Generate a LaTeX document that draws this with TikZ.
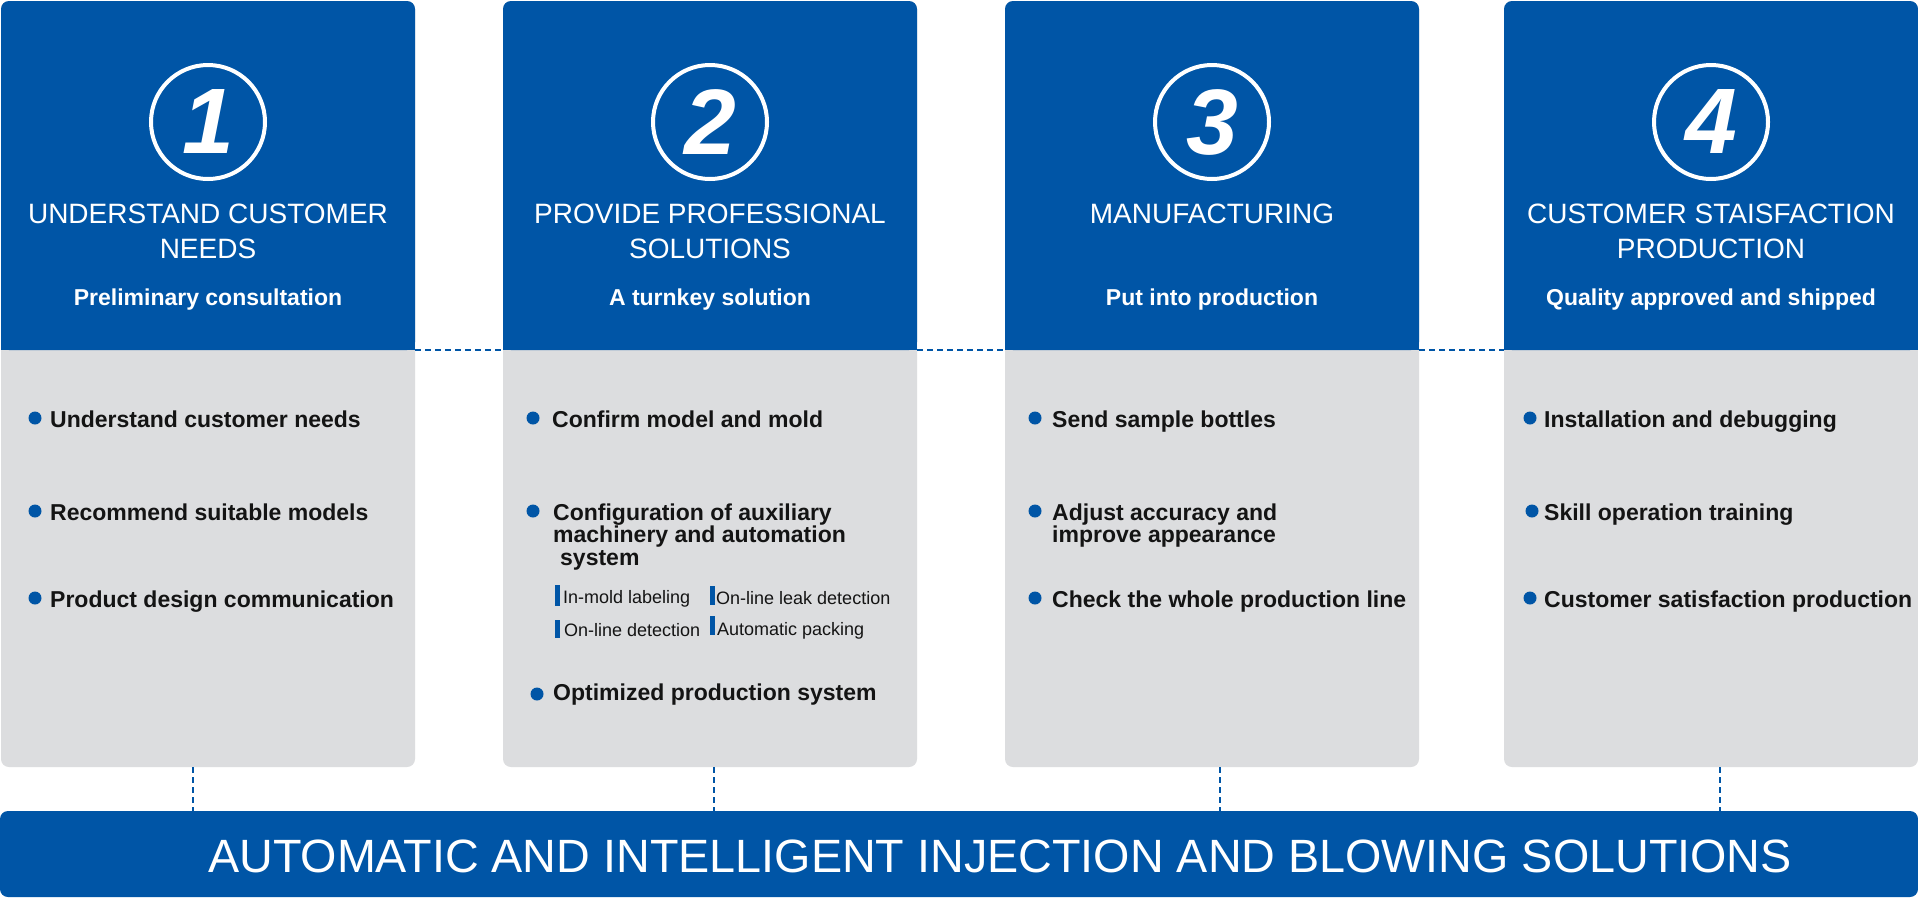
\documentclass[tikz,border=0pt]{standalone}
\usepackage{fontspec}
\setmainfont{Liberation Sans}
\definecolor{cblue}{HTML}{0055A6}
\definecolor{cgray}{HTML}{DCDDDF}
\definecolor{ctext}{HTML}{141414}
\newcommand\myttl{\fontsize{28}{34}\selectfont}
\newcommand\mysub{\fontsize{23}{28}\selectfont\bfseries}
\newcommand\myitem{\fontsize{23}{26}\selectfont\bfseries}
\newcommand\mysmall{\fontsize{18}{20}\selectfont}
\newcommand\mydigit{\fontsize{93}{93}\selectfont\bfseries\itshape}
\newcommand\mybar{\fontsize{46.7}{50}\selectfont}
\tikzset{
  cardbody/.style={fill=cgray, rounded corners=8pt, inner sep=0pt, outer sep=0pt,
    minimum width=414pt, minimum height=766pt, anchor=north west},
  cardhead/.style={fill=cblue, rounded corners=8pt, inner sep=0pt, outer sep=0pt,
    minimum width=414pt, minimum height=349pt, anchor=north west},
  numring/.style={circle, draw=white, line width=4pt, minimum size=114pt, inner sep=0pt,
    text=white, font=\mydigit},
  ttl/.style={anchor=base, text=white, font=\myttl, inner sep=0pt},
  subttl/.style={anchor=base, text=white, font=\mysub, inner sep=0pt},
  itm/.style={anchor=base west, text=ctext, font=\myitem, inner sep=0pt},
  smallitm/.style={anchor=base west, text=ctext, font=\mysmall, inner sep=0pt},
  dot/.style={circle, fill=cblue, minimum size=13pt, inner sep=0pt},
  tick/.style={fill=cblue, minimum width=5pt, inner sep=0pt, anchor=north west},
  link/.style={draw=cblue, line width=1.5pt, dash pattern=on 6pt off 4pt},
  barbox/.style={fill=cblue, rounded corners=8pt, inner sep=0pt, outer sep=0pt,
    minimum width=1918pt, minimum height=86pt, anchor=north west},
}
\begin{document}
\begin{tikzpicture}[x=1pt,y=-1pt]
\useasboundingbox[fill=white] (0,0) rectangle (1918,898);

% cards
\foreach \i/\x in {1/1,2/503,3/1005,4/1504}{
  \node[cardbody] (c\i) at (\x,1) {};
  \node[cardhead] (h\i) at (\x,1) {};
  \fill[cblue] ([yshift=12pt]h\i.south west) rectangle (h\i.south east);
}

% dashed connectors
\draw[link] (h1.south east) -- (h2.south west);
\draw[link] (h2.south east) -- (h3.south west);
\draw[link] (h3.south east) -- (h4.south west);

\node[barbox] (bar) at (0,811) {};
\draw[link] ([xshift=-15pt]c1.south) -- ([xshift=-15pt]c1.south |- bar.north);
\draw[link] ([xshift=4pt]c2.south) -- ([xshift=4pt]c2.south |- bar.north);
\draw[link] ([xshift=8pt]c3.south) -- ([xshift=8pt]c3.south |- bar.north);
\draw[link] ([xshift=9pt]c4.south) -- ([xshift=9pt]c4.south |- bar.north);
\node[anchor=base, text=white, font=\mybar, inner sep=0pt] (bartext) at (1000,872)
  {AUTOMATIC AND INTELLIGENT INJECTION AND BLOWING SOLUTIONS};

% number rings
\node[numring] (n1) at (208,122) {1};
\node[numring] (n2) at (710,122) {2};
\node[numring] (n3) at (1212,122) {3};
\node[numring] (n4) at (1711,122) {4};

% titles
\node[ttl] (t1a) at (208,223) {UNDERSTAND CUSTOMER};
\node[ttl] (t1b) at (208,258) {NEEDS};
\node[subttl] (s1) at (208,305) {Preliminary consultation};
\node[ttl] (t2a) at (710,223) {PROVIDE PROFESSIONAL};
\node[ttl] (t2b) at (710,258) {SOLUTIONS};
\node[subttl] (s2) at (710,305) {A turnkey solution};
\node[ttl] (t3a) at (1212,223) {MANUFACTURING};
\node[subttl] (s3) at (1212,305) {Put into production};
\node[ttl] (t4a) at (1711,223) {CUSTOMER STAISFACTION};
\node[ttl] (t4b) at (1711,258) {PRODUCTION};
\node[subttl] (s4) at (1711,305) {Quality approved and shipped};

% card 1 items
\node[dot] (d11) at (35,418) {};
\node[itm] (i11) at (50,427) {Understand customer needs};
\node[dot] (d12) at (35,511) {};
\node[itm] (i12) at (50,520) {Recommend suitable models};
\node[dot] (d13) at (35,598) {};
\node[itm] (i13) at (50,607) {Product design communication};

% card 2 items
\node[dot] (d21) at (533,418) {};
\node[itm] (i21) at (552,427) {Confirm model and mold};
\node[dot] (d22) at (533,511) {};
\node[itm] (i22a) at (553,520) {Configuration of auxiliary};
\node[itm] (i22b) at (553,542) {machinery and automation};
\node[itm] (i22c) at (560,565) {system};
\node[tick, minimum height=21pt] (k1) at (555,585) {};
\node[smallitm] (m1) at (563,603) {In-mold labeling};
\node[tick, minimum height=19pt] (k2) at (710,586) {};
\node[smallitm] (m2) at (716,604) {On-line leak detection};
\node[tick, minimum height=18pt] (k3) at (555,620) {};
\node[smallitm] (m3) at (564,636) {On-line detection};
\node[tick, minimum height=19pt] (k4) at (710,616) {};
\node[smallitm] (m4) at (717,635) {Automatic packing};
\node[dot] (d23) at (537,694) {};
\node[itm] (i23) at (553,700) {Optimized production system};

% card 3 items
\node[dot] (d31) at (1035,418) {};
\node[itm] (i31) at (1052,427) {Send sample bottles};
\node[dot] (d32) at (1035,511) {};
\node[itm] (i32a) at (1052,520) {Adjust accuracy and};
\node[itm] (i32b) at (1052,542) {improve appearance};
\node[dot] (d33) at (1035,598) {};
\node[itm] (i33) at (1052,607) {Check the whole production line};

% card 4 items
\node[dot] (d41) at (1530,418) {};
\node[itm] (i41) at (1544,427) {Installation and debugging};
\node[dot] (d42) at (1532,511) {};
\node[itm] (i42) at (1544,520) {Skill operation training};
\node[dot] (d43) at (1530,598) {};
\node[itm] (i43) at (1544,607) {Customer satisfaction production};
\end{tikzpicture}
\end{document}
